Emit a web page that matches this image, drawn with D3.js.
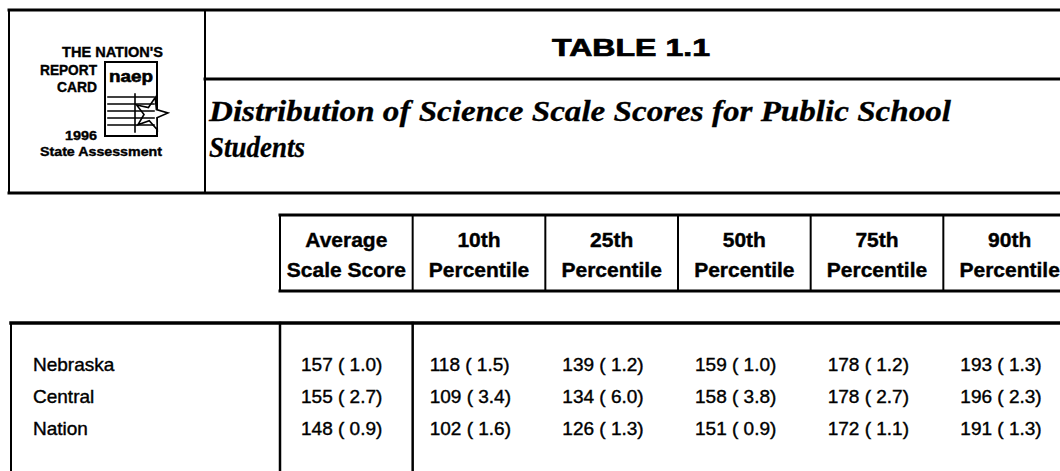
<!DOCTYPE html>
<html>
<head>
<meta charset="utf-8">
<script src="https://cdn.jsdelivr.net/npm/d3@7"></script>
<style>
  html, body { margin: 0; padding: 0; background: #fff; }
  svg { display: block; }
</style>
</head>
<body>
<svg id="chart" width="1060" height="471"></svg>
<script>
// ---------- data ----------
const tableTitle = "TABLE 1.1";
const subtitleLines = ["Distribution of Science Scale Scores for Public School", "Students"];
const logoLines = ["THE NATION'S", "REPORT", "CARD", "1996", "State Assessment"];
const columnHeadLine1 = ["Average", "10th", "25th", "50th", "75th", "90th"];
const columnHeadLine2 = ["Scale Score", "Percentile", "Percentile", "Percentile", "Percentile", "Percentile"];
const rowLabels = ["Nebraska", "Central", "Nation"];
const averageScore = [157, 155, 148];
const averageSE = [1.0, 2.7, 0.9];
const p10Score = [118, 109, 102];
const p10SE = [1.5, 3.4, 1.6];
const p25Score = [139, 134, 126];
const p25SE = [1.2, 6.0, 1.3];
const p50Score = [159, 158, 151];
const p50SE = [1.0, 3.8, 0.9];
const p75Score = [178, 178, 172];
const p75SE = [1.2, 2.7, 1.1];
const p90Score = [193, 196, 191];
const p90SE = [1.3, 2.3, 1.3];

const scoreSeries = [averageScore, p10Score, p25Score, p50Score, p75Score, p90Score];
const seSeries = [averageSE, p10SE, p25SE, p50SE, p75SE, p90SE];

// ---------- layout ----------
const svg = d3.select("#chart");
const W = 1060, H = 471;
const sans = "'Liberation Sans', Arial, Helvetica, sans-serif";
const serif = "'Liberation Serif', 'Times New Roman', serif";

const col = d3.scaleBand().domain(d3.range(6)).range([280, 1076]).paddingInner(0).paddingOuter(0);
const row = d3.scalePoint().domain(rowLabels).range([371, 435]);

function line(x1, y1, x2, y2, w) {
  svg.append("line").attr("x1", x1).attr("y1", y1).attr("x2", x2).attr("y2", y2)
    .attr("stroke", "#000").attr("stroke-width", w).attr("stroke-linecap", "square");
}

// ---------- header box ----------
line(9, 10, W + 5, 10, 3);
line(9, 10, 9, 193, 2);
line(205, 10, 205, 193, 2);
line(205, 79, W + 5, 79, 3);
line(9, 193, W + 5, 193, 3);

svg.append("text").attr("x", 631).attr("y", 56)
  .attr("text-anchor", "middle")
  .attr("font-family", sans).attr("font-weight", "bold").attr("font-size", 23)
  .attr("stroke", "#000").attr("stroke-width", 0.7)
  .attr("textLength", 158).attr("lengthAdjust", "spacingAndGlyphs")
  .text(tableTitle);

svg.selectAll("text.sub").data(subtitleLines).enter().append("text")
  .attr("class", "sub")
  .attr("x", 209)
  .attr("y", (d, i) => 121 + i * 36)
  .attr("font-family", serif).attr("font-weight", "bold").attr("font-style", "italic")
  .attr("font-size", 30)
  .attr("stroke", "#000").attr("stroke-width", 0.3)
  .attr("textLength", (d, i) => i === 0 ? 742 : 96)
  .attr("lengthAdjust", "spacingAndGlyphs")
  .text(d => d);

// ---------- logo ----------
const logo = svg.append("g");
function logoText(t, x, y, size, len) {
  logo.append("text").attr("x", x).attr("y", y).attr("font-size", size)
    .attr("font-family", sans).attr("font-weight", "bold")
    .attr("stroke", "#000").attr("stroke-width", 0.4)
    .attr("textLength", len).attr("lengthAdjust", "spacingAndGlyphs").text(t);
}
logoText(logoLines[0], 62, 57, 15, 101);
logoText(logoLines[1], 40, 75, 15, 57);
logoText(logoLines[2], 57, 92, 15, 40);
logoText(logoLines[3], 65, 140, 13, 32);
logoText(logoLines[4], 40, 156, 13, 122);

logo.append("rect").attr("x", 105).attr("y", 62).attr("width", 52).attr("height", 74)
  .attr("fill", "none").attr("stroke", "#000").attr("stroke-width", 2);
logo.append("text").attr("x", 109).attr("y", 82).attr("font-family", sans)
  .attr("font-weight", "bold").attr("font-size", 17)
  .attr("stroke", "#000").attr("stroke-width", 0.6)
  .attr("textLength", 44).attr("lengthAdjust", "spacingAndGlyphs").text("naep");
[97, 104, 111, 118, 125].forEach(y => line(108, y, 154, y, 1.6));
line(135, 94, 135, 132, 1.6);
const starPts = d3.range(10).map(i => {
  const a = -Math.PI / 2 + 0.25 + i * Math.PI / 5;
  const r = i % 2 === 0 ? 17 : 7;
  return [151 + r * Math.cos(a), 114 + r * Math.sin(a)];
});
logo.append("polygon").attr("points", starPts.map(p => p.join(",")).join(" "))
  .attr("fill", "#fff").attr("stroke", "#000").attr("stroke-width", 1.6);

// ---------- column header box ----------
line(col(0), 215, W + 5, 215, 3);
line(col(0), 291, W + 5, 291, 3);
d3.range(7).forEach(i => {
  const x = i < 6 ? col(i) : col(5) + col.bandwidth();
  line(x, 215, x, 291, 2);
});
const headG = svg.append("g").attr("font-family", sans).attr("font-weight", "bold")
  .attr("font-size", 21).attr("text-anchor", "middle")
  .attr("stroke", "#000").attr("stroke-width", 0.4);
headG.selectAll("text.h1").data(columnHeadLine1).enter().append("text")
  .attr("x", (d, i) => col(i) + col.bandwidth() / 2).attr("y", 247).text(d => d);
headG.selectAll("text.h2").data(columnHeadLine2).enter().append("text")
  .attr("x", (d, i) => col(i) + col.bandwidth() / 2).attr("y", 277).text(d => d);

// ---------- data box ----------
line(11, 323, W + 5, 323, 3.5);
line(11, 323, 11, H + 5, 2);
line(col(0), 323, col(0), H + 5, 2.5);
line(col(1), 323, col(1), H + 5, 2.5);

const bodyG = svg.append("g").attr("font-family", sans).attr("font-size", 19)
  .attr("stroke", "#000").attr("stroke-width", 0.4);
bodyG.selectAll("text.lab").data(rowLabels).enter().append("text")
  .attr("x", 33).attr("y", d => row(d)).text(d => d);

const fmt = d3.format(".1f");
scoreSeries.forEach((series, c) => {
  bodyG.selectAll("text.c" + c).data(series).enter().append("text")
    .attr("class", "c" + c)
    .attr("x", col(c) + (c === 0 ? 21 : 17))
    .attr("y", (d, r) => row(rowLabels[r]))
    .text((d, r) => d + " ( " + fmt(seSeries[c][r]) + ")");
});
</script>
</body>
</html>
